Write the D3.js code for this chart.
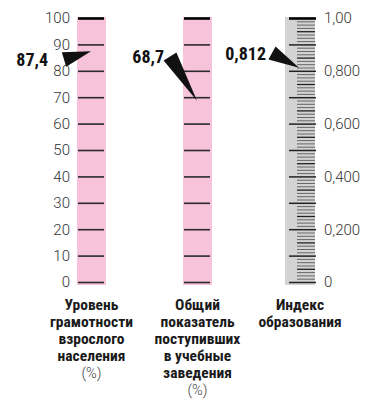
<!DOCTYPE html>
<html>
<head>
<meta charset="utf-8">
<script src="https://cdn.jsdelivr.net/npm/d3@7/dist/d3.min.js"></script>
<style>
  html, body { margin: 0; padding: 0; background: #fff; }
  svg { display: block; }
  .cond { font-family: "Liberation Sans Narrow", "Roboto Condensed", "DejaVu Sans Condensed", "Roboto", "Liberation Sans", sans-serif; font-stretch: condensed; }
  .light { font-family: "Roboto", "Liberation Sans", sans-serif; font-weight: 300; }
</style>
</head>
<body>
<svg id="chart" width="372" height="401"></svg>
<script>
// Gauge titles (one line per entry)
const gaugeTitles = [
  ["Уровень", "грамотности", "взрослого", "населения"],
  ["Общий", "показатель", "поступивших", "в учебные", "заведения"],
  ["Индекс", "образования"]
];
const gaugeUnits = ["(%)", "(%)", ""];
// Indicator values
const gaugeValues = [87.4, 68.7, 0.812];
const valueDigits = [1, 1, 3];
// Percent scale ticks and labels
const pctTicks = [0, 10, 20, 30, 40, 50, 60, 70, 80, 90, 100];
const pctTickLabels = ["0", "10", "20", "30", "40", "50", "60", "70", "80", "90", "100"];
// Index scale ticks and labels
const idxMajorTicks = [0, 0.1, 0.2, 0.3, 0.4, 0.5, 0.6, 0.7, 0.8, 0.9, 1];
const idxTickLabels = ["0", "", "0,200", "", "0,400", "", "0,600", "", "0,800", "", "1,00"];

const svg = d3.select("#chart");
const ru = d3.formatLocale({ decimal: ",", thousands: " ", grouping: [3], currency: ["", ""] });

const plotTop = 18, plotBottom = 282;
const yPct = d3.scaleLinear().domain([0, 100]).range([plotBottom, plotTop]);
const yIdx = d3.scaleLinear().domain([0, 1]).range([plotBottom, plotTop]);
const yScales = [yPct, yPct, yIdx];

// Layout of the three columns
const barX = [77, 183, 285];
const barW = [29, 29, 30];
const barFill = ["#f6c3da", "#f6c3da", "#d3d3d3"];
const pointerBaseY = [59.5, 56.5, 53];
const labelGap = [16, 6, 6];

// Column bars
barX.forEach((x, i) => {
  svg.append("rect")
    .attr("x", x).attr("y", plotTop - 1)
    .attr("width", barW[i]).attr("height", plotBottom - plotTop + 4)
    .attr("fill", barFill[i]);
});

function styleAxis(g, color, width) {
  g.select(".domain").remove();
  g.selectAll(".tick line").attr("stroke", color).attr("stroke-width", width);
}

// Gauge 1: ticks with labels on the left
const ax1 = svg.append("g").attr("transform", "translate(104,0)")
  .call(d3.axisLeft(yPct).tickValues(pctTicks).tickSize(26).tickPadding(8)
    .tickFormat((d, i) => pctTickLabels[i]));
styleAxis(ax1, "#2a2a2a", 1.6);
ax1.selectAll(".tick text").attr("class", "light").attr("font-size", 15).attr("fill", "#333");

// Gauge 2: ticks only
const ax2 = svg.append("g").attr("transform", "translate(210,0)")
  .call(d3.axisLeft(yPct).tickValues(pctTicks).tickSize(26).tickFormat(""));
styleAxis(ax2, "#2a2a2a", 1.6);

[ax1, ax2].forEach(a => a.selectAll(".tick").filter(d => d === 100)
  .select("line").attr("stroke", "#000").attr("stroke-width", 2.6));

// Gauge 3: fine minor ticks every 0.0125, darker at the half-steps
const minorTicks = d3.range(0, 81).map(k => k / 80).filter(v => Math.round(v * 80) % 8 !== 0);
const ax3m = svg.append("g").attr("transform", "translate(297,0)")
  .call(d3.axisRight(yIdx).tickValues(minorTicks).tickSize(18).tickFormat(""));
styleAxis(ax3m, "#666", 1);
ax3m.selectAll(".tick").filter(d => Math.round(d * 80) % 4 === 0)
  .select("line").attr("stroke", "#222").attr("stroke-width", 1.3);

// Gauge 3: major ticks and labels on the right
const ax3 = svg.append("g").attr("transform", "translate(289,0)")
  .call(d3.axisRight(yIdx).tickValues(idxMajorTicks).tickSize(27).tickPadding(8)
    .tickFormat((d, i) => idxTickLabels[i]));
styleAxis(ax3, "#222", 1.5);
ax3.selectAll(".tick text").attr("class", "light").attr("font-size", 15).attr("fill", "#333");
ax3.selectAll(".tick").filter(d => d === 1)
  .select("line").attr("stroke", "#000").attr("stroke-width", 2.6);

// Value pointers: label and arrow base beside the column, tip at the value
gaugeValues.forEach((v, i) => {
  const y = yScales[i];
  const baseX = barX[i] - 13;
  const baseY = pointerBaseY[i];
  const tipX = barX[i] + 14;
  const tipY = y(v);
  const dx = tipX - baseX, dy = tipY - baseY;
  const len = Math.hypot(dx, dy);
  const nx = -dy / len * 7.5, ny = dx / len * 7.5;
  const pts = [[baseX + nx, baseY + ny], [tipX, tipY], [baseX - nx, baseY - ny]];
  svg.append("path")
    .attr("d", d3.line()(pts) + "Z")
    .attr("fill", "#111");
  svg.append("text")
    .attr("class", "cond")
    .attr("x", baseX - labelGap[i]).attr("y", baseY + 6.5)
    .attr("text-anchor", "end")
    .attr("font-size", 18).attr("font-weight", "bold").attr("fill", "#111")
    .text(ru.format("." + valueDigits[i] + "f")(v));
});

// Titles under each gauge
gaugeTitles.forEach((lines, i) => {
  const cx = barX[i] + barW[i] / 2;
  const t = svg.append("text").attr("text-anchor", "middle");
  lines.forEach((ln, k) => {
    t.append("tspan").attr("class", "cond")
      .attr("x", cx).attr("y", 310 + k * 17)
      .attr("font-size", 15.5).attr("font-weight", "bold").attr("fill", "#1a1a1a")
      .text(ln);
  });
  if (gaugeUnits[i]) {
    svg.append("text").attr("class", "light")
      .attr("x", cx).attr("y", 310 + lines.length * 17)
      .attr("text-anchor", "middle").attr("font-size", 14.5).attr("fill", "#444")
      .text(gaugeUnits[i]);
  }
});
</script>
</body>
</html>
